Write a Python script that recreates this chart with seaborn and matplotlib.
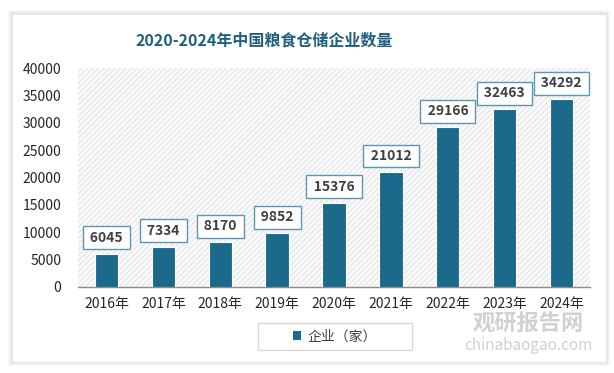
import matplotlib
matplotlib.use("Agg")
import matplotlib.pyplot as plt
import seaborn as sns
import pandas as pd
from matplotlib.patches import Rectangle, Patch

years = ["2016年", "2017年", "2018年", "2019年", "2020年", "2021年", "2022年", "2023年", "2024年"]
companies = [6045, 7334, 8170, 9852, 15376, 21012, 29166, 32463, 34292]
yticks = [0, 5000, 10000, 15000, 20000, 25000, 30000, 35000, 40000]
title = "2020-2024年中国粮食仓储企业数量"
series_name = "企业（家）"

sns.set_theme(style="white")
plt.rcParams['font.family'] = ['Noto Sans CJK SC', 'DejaVu Sans']

bar_color = "#1b6a8c"
df = pd.DataFrame({"year": years, "value": companies})

fig = plt.figure(figsize=(6.14, 3.73), dpi=100)
fig.patch.set_facecolor("white")

# card with soft shadow
for i, a in enumerate([0.05, 0.05, 0.06, 0.07]):
    d = (4 - i) / 614
    fig.patches.append(Rectangle((12/614 - d, 11/373 - d*614/373), 594/614 + 2*d, 348/373 + 2*d*614/373,
                                 transform=fig.transFigure, facecolor="#888888", alpha=a,
                                 edgecolor="none", zorder=-3))
fig.patches.append(Rectangle((12/614, 11/373), 594/614, 348/373, transform=fig.transFigure,
                             facecolor="white", edgecolor="#e6e6e6", lw=0.8, zorder=-2))

ax = fig.add_axes([78/614, 1 - 287/373, 512/614, 219/373])
sns.barplot(data=df, x="year", y="value", color=bar_color, width=0.41, ax=ax,
            saturation=1, edgecolor="white", linewidth=0.8, zorder=3)

ax.set_facecolor("#fafafa")
ax.patch.set_hatch("//////")
ax.patch.set_edgecolor("#e8e8e8")
ax.patch.set_linewidth(0)

ax.set_ylim(0, 40000)
ax.set_xlim(-0.5, 8.5)
ax.set_yticks(yticks)
ax.set_yticklabels([str(v) for v in yticks])
ax.set_xlabel("")
ax.set_ylabel("")
for s in ["top", "right", "left"]:
    ax.spines[s].set_visible(False)
ax.spines["bottom"].set_color("#8c8c8c")
ax.spines["bottom"].set_linewidth(1.0)
ax.tick_params(axis="y", length=0, pad=12, labelsize=10, labelcolor="#262626")
ax.tick_params(axis="x", length=0, pad=7, labelsize=10, labelcolor="#262626")

for i, v in enumerate(companies):
    ax.annotate(f"\u2009{v}\u2009", xy=(i, v), xytext=(0, 11.5), textcoords="offset points",
                ha="center", va="center", fontsize=10, fontweight="bold", color="#404040",
                bbox=dict(boxstyle="square,pad=0.32", facecolor="white", edgecolor="#5b97b0", lw=1.0),
                zorder=5)

fig.text(264/614, 1 - 40/373, title, ha="center", va="center", fontsize=11.5,
         color="#1f5f7f", fontweight="bold")

# legend frame drawn manually for matching width
fig.patches.append(Rectangle((258/614, 1 - 350/373), 154/614, 27/373, transform=fig.transFigure,
                             facecolor="white", edgecolor="#d9d9d9", lw=1.0, zorder=1))
leg = fig.legend(handles=[Patch(facecolor=bar_color, edgecolor="none", label=series_name)],
                 loc="center", bbox_to_anchor=(335/614, 1 - 336.5/373), frameon=False,
                 fontsize=10, handlelength=0.6, handleheight=0.6,
                 handletextpad=0.5, labelcolor="#404040")
leg.set_zorder(2)

# watermark
fig.text(528/614, 1 - 324/373, "观研报告网", ha="center", va="center", fontsize=16,
         fontweight="bold", color="#9a9a9a", alpha=0.45)
fig.text(528/614, 1 - 346/373, "chinabaogao.com", ha="center", va="center", fontsize=11,
         color="#9a9a9a", alpha=0.45)

fig.savefig("out.png", dpi=100, facecolor=fig.get_facecolor())
